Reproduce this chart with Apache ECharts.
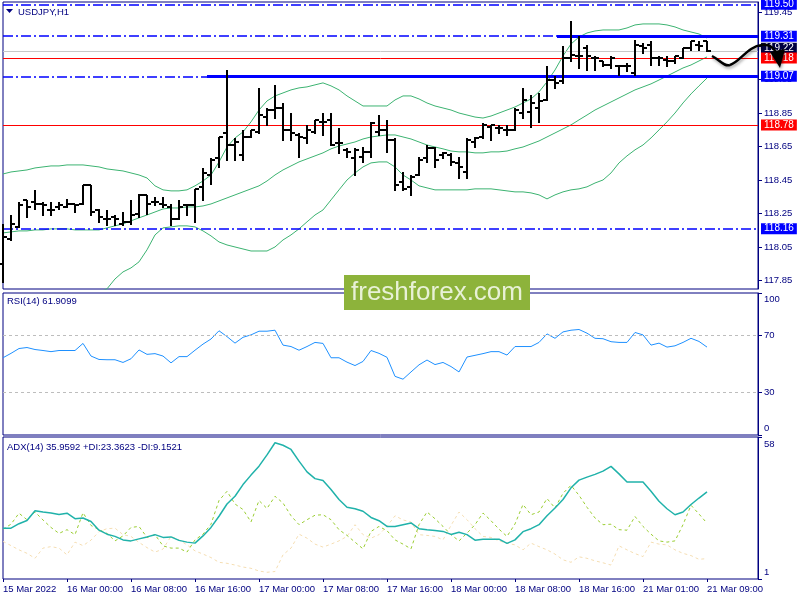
<!DOCTYPE html>
<html><head><meta charset="utf-8">
<script src="https://cdn.jsdelivr.net/npm/echarts@6/dist/echarts.min.js"></script>
<style>html,body{margin:0;padding:0;background:#fff;}#c{width:800px;height:600px;}</style>
</head><body><div id="c"></div>
<script>
// ---------------- DATA ----------------
const timeLabels = ['15 Mar 2022','16 Mar 00:00','16 Mar 08:00','16 Mar 16:00','17 Mar 00:00','17 Mar 08:00','17 Mar 16:00','18 Mar 00:00','18 Mar 08:00','18 Mar 16:00','21 Mar 01:00','21 Mar 09:00'];
const timeLabelBars = [0,8,16,24,32,40,48,56,64,72,80,88];

const opens  = [117.95,118.10,118.17,118.33,118.32,118.31,118.27,118.29,118.29,118.31,118.31,118.42,118.27,118.22,118.23,118.19,118.20,118.25,118.36,118.32,118.31,118.29,118.22,118.30,118.30,118.41,118.48,118.58,118.73,118.66,118.60,118.71,118.74,118.83,118.87,118.88,118.75,118.72,118.70,118.74,118.80,118.81,118.67,118.63,118.58,118.59,118.62,118.74,118.75,118.69,118.44,118.41,118.48,118.58,118.64,118.60,118.60,118.55,118.50,118.68,118.71,118.77,118.76,118.75,118.75,118.85,118.86,118.88,118.93,119.05,119.04,119.18,119.19,119.24,119.18,119.16,119.14,119.13,119.13,119.09,119.25,119.26,119.18,119.17,119.16,119.18,119.24,119.26,119.28];
const highs  = [118.19,118.24,118.32,118.33,118.39,118.32,118.32,118.32,118.34,118.31,118.42,118.42,118.28,118.27,118.24,118.26,118.33,118.37,118.36,118.35,118.35,118.31,118.33,118.31,118.40,118.52,118.58,118.71,119.11,118.70,118.75,118.75,119.00,118.88,119.02,118.91,118.85,118.73,118.78,118.81,118.85,118.85,118.76,118.64,118.64,118.65,118.80,118.84,118.81,118.70,118.50,118.48,118.59,118.66,118.65,118.62,118.61,118.59,118.70,118.71,118.79,118.78,118.78,118.78,118.88,119.00,118.96,118.97,119.13,119.07,119.25,119.40,119.31,119.26,119.19,119.16,119.19,119.14,119.15,119.29,119.27,119.28,119.19,119.19,119.19,119.24,119.28,119.28,119.28];
const lows   = [117.84,118.09,118.17,118.23,118.28,118.24,118.24,118.28,118.29,118.26,118.31,118.24,118.20,118.18,118.18,118.18,118.19,118.23,118.25,118.30,118.29,118.18,118.22,118.24,118.20,118.33,118.43,118.53,118.57,118.57,118.57,118.71,118.73,118.78,118.82,118.69,118.69,118.59,118.67,118.73,118.72,118.66,118.61,118.59,118.48,118.56,118.59,118.72,118.62,118.39,118.39,118.36,118.48,118.56,118.53,118.58,118.54,118.46,118.46,118.65,118.70,118.69,118.73,118.72,118.75,118.82,118.77,118.80,118.93,119.00,119.03,119.16,119.12,119.11,119.11,119.13,119.12,119.08,119.10,119.08,119.21,119.14,119.14,119.13,119.15,119.18,119.23,119.23,119.22];
const closes = [118.11,118.19,118.30,118.29,118.31,118.30,118.27,118.30,118.31,118.30,118.42,118.26,118.23,118.22,118.22,118.20,118.24,118.36,118.31,118.32,118.30,118.22,118.29,118.30,118.40,118.49,118.57,118.71,118.66,118.68,118.71,118.75,118.84,118.87,118.88,118.75,118.73,118.71,118.75,118.81,118.80,118.66,118.67,118.62,118.63,118.62,118.79,118.75,118.69,118.42,118.40,118.47,118.57,118.64,118.57,118.61,118.56,118.53,118.69,118.70,118.78,118.78,118.76,118.75,118.87,118.93,118.91,118.92,119.05,119.03,119.18,119.20,119.19,119.19,119.18,119.14,119.18,119.13,119.13,119.26,119.24,119.18,119.18,119.16,119.19,119.24,119.28,119.25,119.22];

const bbUpper  = [118.487,118.499,118.505,118.511,118.523,118.529,118.535,118.535,118.541,118.541,118.541,118.535,118.529,118.517,118.511,118.505,118.493,118.481,118.463,118.416,118.392,118.386,118.386,118.392,118.416,118.445,118.481,118.559,118.648,118.702,118.738,118.798,118.869,118.923,118.953,118.971,118.989,119.001,119.007,119.019,119.031,119.013,118.989,118.953,118.923,118.893,118.893,118.893,118.893,118.929,118.953,118.953,118.935,118.911,118.893,118.881,118.869,118.851,118.839,118.827,118.821,118.833,118.851,118.869,118.887,118.911,118.935,118.977,119.037,119.108,119.192,119.263,119.305,119.329,119.341,119.347,119.347,119.347,119.359,119.377,119.383,119.383,119.383,119.377,119.365,119.347,119.335,119.323,119.299];
const bbMiddle = [118.135,118.141,118.147,118.147,118.153,118.153,118.159,118.159,118.159,118.153,118.153,118.153,118.153,118.165,118.177,118.189,118.207,118.225,118.242,118.260,118.278,118.284,118.284,118.290,118.290,118.296,118.308,118.326,118.344,118.362,118.380,118.398,118.416,118.445,118.481,118.511,118.535,118.559,118.577,118.595,118.613,118.637,118.654,118.666,118.678,118.696,118.708,118.714,118.720,118.720,118.708,118.696,118.678,118.660,118.648,118.637,118.624,118.619,118.619,118.613,118.613,118.619,118.619,118.624,118.637,118.648,118.666,118.684,118.708,118.732,118.756,118.780,118.810,118.839,118.869,118.893,118.917,118.941,118.965,118.989,119.007,119.025,119.048,119.072,119.096,119.120,119.138,119.162,119.186];
const bbLower  = [117.496,117.526,117.556,117.586,117.616,117.645,117.669,117.693,117.717,117.741,117.759,117.771,117.783,117.801,117.860,117.902,117.926,117.962,118.034,118.123,118.165,118.171,118.177,118.177,118.171,118.147,118.117,118.081,118.063,118.051,118.039,118.027,118.027,118.027,118.051,118.093,118.123,118.159,118.201,118.242,118.272,118.332,118.392,118.451,118.493,118.529,118.553,118.559,118.559,118.529,118.481,118.451,118.416,118.404,118.392,118.392,118.392,118.392,118.392,118.398,118.398,118.398,118.392,118.386,118.380,118.380,118.374,118.362,118.338,118.362,118.380,118.392,118.398,118.410,118.433,118.451,118.493,118.553,118.595,118.631,118.660,118.702,118.750,118.798,118.851,118.911,118.965,119.013,119.060];

const rsiValues = [54.4,57.5,60.9,61.6,60.2,59.5,58.7,59.5,59.5,59.5,64.5,55.6,53.2,53.0,53.0,51.1,53.7,59.9,56.8,57.3,55.6,50.8,55.2,55.2,59.7,64.0,67.6,73.4,69.3,64.7,68.8,70.5,73.1,73.1,73.8,63.3,62.3,59.7,62.3,65.2,64.5,54.4,54.4,51.3,48.9,51.8,59.5,57.5,54.7,41.3,39.3,44.4,49.4,52.8,49.6,51.1,48.2,44.4,54.9,56.1,57.3,58.7,58.7,56.3,62.3,62.3,62.3,65.2,71.2,68.1,72.6,73.8,74.3,71.7,68.1,67.8,65.7,65.2,65.2,72.2,70.5,63.3,64.7,61.9,62.8,65.2,68.1,65.9,61.9];

const adxValues = [21.4,21.4,23.2,24.5,28.4,27.9,27.5,26.9,27.4,25.2,25.5,24.1,20.6,19.0,18.1,16.7,16.3,17.1,17.9,18.8,17.7,17.9,16.5,15.8,15.4,18.3,21.7,26.2,31.1,34.2,38.9,42.7,46.3,50.8,55.7,54.7,53.0,48.3,44.0,41.3,40.5,36.9,32.9,29.8,29.2,28.2,25.7,24.4,22.1,22.1,22.8,23.5,21.2,20.8,20.5,20.1,18.9,19.8,18.8,16.6,17.0,17.0,17.0,15.3,16.7,20.0,21.2,22.8,26.4,29.5,32.9,37.6,40.7,41.9,43.0,44.3,46.2,43.2,39.9,39.9,39.9,36.2,32.2,29.2,26.8,27.9,30.9,33.5,36.0];
const plusDI    = [21.0,23.0,27.4,24.8,27.9,24.7,21.7,19.3,20.8,18.8,27.6,22.5,20.8,19.3,16.3,18.3,21.7,22.1,17.7,18.8,14.3,13.4,13.4,11.8,16.7,19.0,23.0,32.5,36.2,31.1,28.9,23.9,32.5,29.3,34.2,31.5,26.4,22.8,24.8,26.6,26.8,24.8,20.8,18.5,15.8,13.1,20.1,22.1,20.4,16.7,15.0,13.1,22.8,27.9,25.2,22.1,18.8,16.3,19.4,22.8,27.5,24.4,21.0,18.1,23.1,30.9,26.8,27.9,33.3,29.5,35.4,38.6,34.6,29.8,25.5,22.8,23.0,20.8,20.6,26.1,22.1,19.0,16.3,15.8,16.3,22.8,30.6,27.1,23.4];
const minusDI   = [16.1,14.4,12.7,11.3,9.3,13.4,14.0,13.4,10.7,15.8,14.4,16.6,20.0,21.2,21.4,18.8,18.1,15.7,13.6,11.8,13.0,18.1,16.7,14.7,12.3,11.0,9.6,7.7,7.3,6.6,5.8,5.3,4.2,3.7,4.0,10.7,13.4,19.0,17.4,15.0,13.8,15.0,16.3,18.1,22.8,18.8,17.4,18.8,22.1,26.4,24.7,23.9,18.8,18.5,18.1,16.7,22.5,27.9,24.8,21.2,18.1,17.7,16.3,15.4,14.7,12.7,15.4,14.0,12.7,11.0,8.7,7.7,9.9,9.3,8.3,7.5,6.6,14.3,12.7,11.2,10.0,15.8,15.0,14.7,12.7,11.3,10.4,8.9,9.2];

const priceTicks = [117.85,118.05,118.25,118.45,118.65,118.85,119.05,119.25,119.45];
const rsiTicks = [0,30,70,100];
const rsiLevels = [30,70];
const adxRange = [1,58];

const resistanceLevels = [119.50,119.31,119.07,118.16]; // blue dash-dot
const redLevels = [119.18,118.78];                      // red solid
const bidPrice = 119.22;
// trend segments: [start bar, price]
const thickSegments = [[69.25,119.31],[25.5,119.07]];

const symbolName = 'USDJPY,H1';
const rsiTitle = 'RSI(14) 61.9099';
const adxTitle = 'ADX(14) 35.9592 +DI:23.3623 -DI:9.1521';
const watermark = 'freshforex.com';

// ---------------- CHART ----------------
const NAVY = '#000080';
const FONT = 'Liberation Sans, Arial, sans-serif';
const X_MAX = 94.375;
const chart = echarts.init(document.getElementById('c'), null, {renderer:'canvas'});

const grids = [
  {left:3, right:42, top:2, height:287},
  {left:3, right:42, top:293, height:142},
  {left:3, right:42, top:437, height:142}
].map(g => Object.assign(g, {show:true, borderColor:NAVY, borderWidth:1, backgroundColor:'transparent'}));

function xAx(idx, showLabels){
  return {
    type:'value', gridIndex:idx, min:0, max:X_MAX,
    axisLine:{show:false, onZero:false}, splitLine:{show:false},
    axisTick:{show:showLabels, customValues:timeLabelBars, length:3, lineStyle:{color:NAVY}},
    axisLabel:{show:showLabels, customValues:timeLabelBars, align:'left', margin:5,
      color:NAVY, fontSize:9.5, fontFamily:FONT,
      formatter:v => { const k = timeLabelBars.indexOf(Math.round(v)); return k>=0 ? timeLabels[k] : ''; }}
  };
}
function yAx(idx, min, max, tickVals, labelVals, fmt){
  return {
    type:'value', gridIndex:idx, position:'right', min:min, max:max, scale:true,
    axisLine:{show:true, onZero:false, lineStyle:{color:NAVY, width:1}},
    axisTick:{show:true, customValues:tickVals, length:4, lineStyle:{color:NAVY}},
    axisLabel:{customValues:labelVals, margin:6, color:NAVY, fontSize:9.5, fontFamily:FONT, formatter:fmt},
    splitLine:{show:false}
  };
}

const dashDot = [10,3,2,3];
function levelLabel(bg){
  return {show:true, position:'end', distance:3, formatter:p => p.value.toFixed(2),
    color:'#fff', backgroundColor:bg, fontSize:10, fontFamily:FONT, padding:[1,3,0,3], lineHeight:10};
}
const markData = [];
markData.push({yAxis:bidPrice, lineStyle:{color:'#C8C8C8', width:1, type:'solid'},
  label:Object.assign(levelLabel('#000040'), {offset:[0,-3]})});
redLevels.forEach(p => markData.push({yAxis:p, lineStyle:{color:'#FF0000', width:1, type:'solid'}, label:levelLabel('#FF0000')}));
resistanceLevels.forEach(p => markData.push({yAxis:p, lineStyle:{color:'#0000FF', width:1.5, type:dashDot}, label:levelLabel('#0000FF')}));
thickSegments.forEach(s => markData.push([
  {coord:[s[0], s[1]], lineStyle:{color:'#0000FF', width:3, type:'solid'}, label:{show:false}},
  {coord:[X_MAX, s[1]]}
]));

const ohlc = opens.map((o,i) => [i, o, highs[i], lows[i], closes[i]]);
const toXY = arr => arr.map((v,i) => [i, v]);

function lineSeries(data, xi, yi, color, width, type, z){
  return {type:'line', xAxisIndex:xi, yAxisIndex:yi, data:toXY(data), symbol:'none', silent:true,
    clip:true, z:z||2, lineStyle:{color:color, width:width, type:type||'solid'}, animation:false};
}

const option = {
  animation:false,
  grid:grids,
  xAxis:[xAx(0,false), xAx(1,false), xAx(2,true)],
  yAxis:[
    yAx(0, 117.80, 119.514, priceTicks, priceTicks, v => v.toFixed(2)),
    yAx(1, 0, 100, rsiTicks, [4.9,30,70,95.8], v => v > 90 ? '100' : (v < 10 ? '0' : String(Math.round(v)))),
    yAx(2, adxRange[0], adxRange[1], adxRange, [3.8,55.2], v => v > 30 ? String(adxRange[1]) : String(adxRange[0]))
  ],
  series:[
    lineSeries(bbUpper,0,0,'#3CB371',1),
    lineSeries(bbMiddle,0,0,'#3CB371',1),
    lineSeries(bbLower,0,0,'#3CB371',1),
    {
      type:'custom', xAxisIndex:0, yAxisIndex:0, data:ohlc, silent:true, z:5,
      encode:{x:0, y:[1,2,3,4]},
      renderItem:function(params, api){
        const i = api.value(0);
        const x = Math.round(api.coord([i, api.value(2)])[0]);
        const yh = Math.round(api.coord([i, api.value(2)])[1]);
        const yl = Math.round(api.coord([i, api.value(3)])[1]);
        const yo = Math.round(api.coord([i, api.value(1)])[1]);
        const yc = Math.round(api.coord([i, api.value(4)])[1]);
        const st = {stroke:'#000', lineWidth:2};
        return {type:'group', children:[
          {type:'line', shape:{x1:x, y1:yh, x2:x, y2:yl+1}, style:st},
          {type:'line', shape:{x1:x-4, y1:yo, x2:x, y2:yo}, style:st},
          {type:'line', shape:{x1:x, y1:yc, x2:x+4, y2:yc}, style:st}
        ]};
      },
      markLine:{silent:true, symbol:['none','none'], animation:false, precision:2, z:3, data:markData}
    },
    Object.assign(lineSeries(rsiValues,1,1,'#1E90FF',1), {
      markLine:{silent:true, symbol:['none','none'], animation:false, label:{show:false},
        lineStyle:{color:'#BDBDBD', width:1, type:[3,3]}, data:rsiLevels.map(v => ({yAxis:v}))}
    }),
    lineSeries(minusDI,2,2,'#F5DEB3',1,[3,3],2),
    lineSeries(plusDI,2,2,'#9ACD32',1,[3,3],3),
    lineSeries(adxValues,2,2,'#20B2AA',1.5,'solid',4)
  ],
  graphic:[
    {type:'polygon', shape:{points:[[6,9],[13,9],[9.5,13]]}, style:{fill:NAVY}, z:100},
    {type:'text', x:18, y:12, style:{text:symbolName, fill:NAVY, font:'9.5px '+FONT, textVerticalAlign:'middle', verticalAlign:'middle'}, z:100},
    {type:'text', x:7, y:301, style:{text:rsiTitle, fill:NAVY, font:'9.5px '+FONT, textVerticalAlign:'middle', verticalAlign:'middle'}, z:100},
    {type:'text', x:7, y:447, style:{text:adxTitle, fill:NAVY, font:'9.5px '+FONT, textVerticalAlign:'middle', verticalAlign:'middle'}, z:100},
    {type:'rect', shape:{x:344, y:275, width:186, height:35}, style:{fill:'#8DB33B'}, z:100},
    {type:'text', x:437, y:293, style:{text:watermark, fill:'rgba(240,246,228,0.92)', font:'26px '+FONT,
      textAlign:'center', align:'center', textVerticalAlign:'middle', verticalAlign:'middle'}, z:101},
    {type:'bezierCurve', shape:{x1:712, y1:56, cpx1:720, cpy1:60, cpx2:724, cpy2:67, x2:730, y2:65},
      style:{stroke:'#000', lineWidth:2.5, fill:null, shadowBlur:3, shadowColor:'rgba(0,0,0,0.35)', shadowOffsetX:1, shadowOffsetY:2}, z:110},
    {type:'bezierCurve', shape:{x1:730, y1:65, cpx1:740, cpy1:62, cpx2:748, cpy2:46, x2:762, y2:45},
      style:{stroke:'#000', lineWidth:2.5, fill:null, shadowBlur:3, shadowColor:'rgba(0,0,0,0.35)', shadowOffsetX:1, shadowOffsetY:2}, z:110},
    {type:'bezierCurve', shape:{x1:762, y1:45, cpx1:770, cpy1:44, cpx2:774, cpy2:48, x2:777, y2:54},
      style:{stroke:'#000', lineWidth:2.5, fill:null}, z:110},
    {type:'polygon', shape:{points:[[770,52],[785,49],[780,68]]}, style:{fill:'#000', shadowBlur:3, shadowColor:'rgba(0,0,0,0.35)', shadowOffsetX:1, shadowOffsetY:2}, z:110}
  ]
};
chart.setOption(option);
</script>
</body></html>
